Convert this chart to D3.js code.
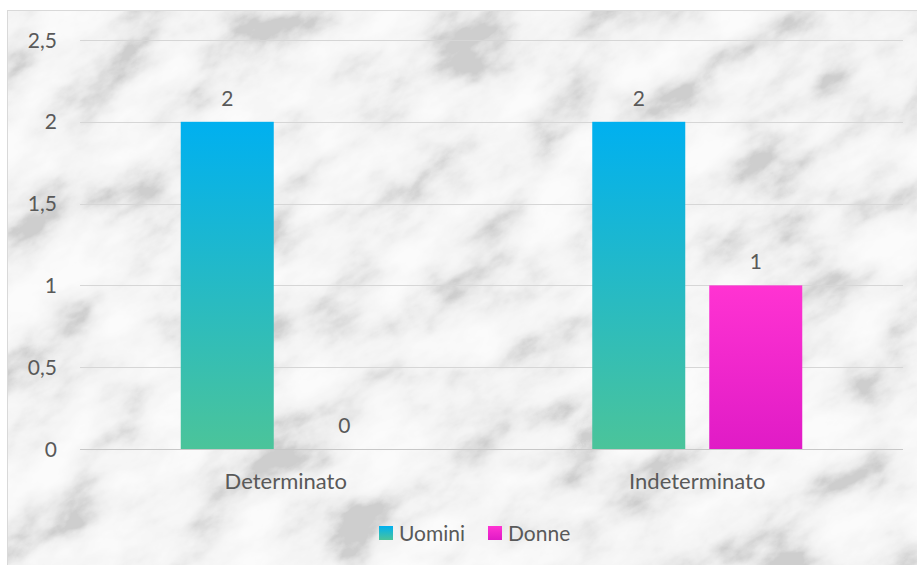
<!DOCTYPE html>
<html><head><meta charset="utf-8">
<script src="https://cdn.jsdelivr.net/npm/d3@7"></script>
<style>body{margin:0;background:#fff}svg{display:block}text{font-family:Lato,"Open Sans",sans-serif;fill:#595959}</style>
</head><body><svg id="c" width="917" height="565"></svg>
<script>
const categories = ["Determinato", "Indeterminato"];
const seriesNames = ["Uomini", "Donne"];
const uomini = [2, 2];
const donne = [0, 1];
const yTicks = [0, 0.5, 1, 1.5, 2, 2.5];
const yTickLabels = ["0", "0,5", "1", "1,5", "2", "2,5"];

const svg = d3.select("#c");
const W = 917, H = 565;
const defs = svg.append("defs");

// marble-like background texture
const f = defs.append("filter").attr("id","marble").attr("filterUnits","userSpaceOnUse")
  .attr("x",-600).attr("y",-600).attr("width",2200).attr("height",2000);
f.append("feTurbulence").attr("type","fractalNoise").attr("baseFrequency","0.011 0.019").attr("numOctaves",6).attr("seed",11).attr("result","n");
f.append("feColorMatrix").attr("in","n").attr("type","matrix")
 .attr("values","1.9 0.4 0 0 -0.65  1.9 0.4 0 0 -0.65  1.9 0.4 0 0 -0.65  0 0 0 0 1").attr("result","g");
const ct = f.append("feComponentTransfer").attr("in","g");
["feFuncR","feFuncG","feFuncB"].forEach(k=>ct.append(k).attr("type","table").attr("tableValues","0.62 0.72 0.8 0.86 0.9 0.92 0.94 0.955 0.965"));

const chartX = 7, chartY = 10;
defs.append("clipPath").attr("id","cc").append("rect").attr("x",chartX).attr("y",chartY).attr("width",W-chartX).attr("height",H-chartY);
const bg = svg.append("g").attr("clip-path","url(#cc)");
bg.append("rect").attr("x",chartX).attr("y",chartY).attr("width",W-chartX).attr("height",H-chartY).attr("fill","#e6e6e6");
bg.append("g").attr("transform","rotate(-30 458 282)")
  .append("rect").attr("x",-400).attr("y",-400).attr("width",1800).attr("height",1400).attr("filter","url(#marble)");
svg.append("rect").attr("x",chartX+0.5).attr("y",chartY+0.5).attr("width",W-chartX).attr("height",H-chartY).attr("fill","none").attr("stroke","#d9d9d9");

// gradients
const gU = defs.append("linearGradient").attr("id","gU").attr("x1",0).attr("y1",0).attr("x2",0).attr("y2",1);
gU.append("stop").attr("offset","0%").attr("stop-color","#00b0f0");
gU.append("stop").attr("offset","100%").attr("stop-color","#4bc49a");
const gD = defs.append("linearGradient").attr("id","gD").attr("x1",0).attr("y1",0).attr("x2",0).attr("y2",1);
gD.append("stop").attr("offset","0%").attr("stop-color","#ff33d2");
gD.append("stop").attr("offset","100%").attr("stop-color","#e01bc6");
const fills = ["url(#gU)","url(#gD)"];

const plot = {left: 80, right: 903, top: 40, bottom: 449};
const y = d3.scaleLinear().domain([0, 2.5]).range([plot.bottom, plot.top]);
const x0 = d3.scaleBand().domain(categories).range([plot.left, plot.right]).paddingInner(0).paddingOuter(0);
const x1 = d3.scaleBand().domain(seriesNames).range([0, 210]).paddingInner(24/117);

// gridlines
svg.append("g").selectAll("line").data(yTicks).join("line")
  .attr("x1",plot.left).attr("x2",plot.right)
  .attr("y1",d=>Math.round(y(d))+0.5).attr("y2",d=>Math.round(y(d))+0.5)
  .attr("stroke",d=>d===0?"#c8c8c8":"#d6d6d6").attr("stroke-width",1);

// y labels
svg.append("g").selectAll("text").data(yTicks).join("text")
  .attr("x",57).attr("y",d=>y(d)).attr("dy","0.36em").attr("text-anchor","end")
  .attr("font-size",21).text((d,i)=>yTickLabels[i]);

const data = categories.map((c,i)=>({c, vals:[uomini[i], donne[i]]}));
const g = svg.append("g");
data.forEach(d=>{
  const gx = x0(d.c) + x0.bandwidth()/2 - 105;
  d.vals.forEach((v,j)=>{
    const bx = gx + x1(seriesNames[j]);
    g.append("rect").attr("x",bx).attr("y",y(v)).attr("width",x1.bandwidth()).attr("height",y(0)-y(v)).attr("fill",fills[j]);
    g.append("text").attr("x",bx + x1.bandwidth()/2).attr("y",y(v)-16).attr("text-anchor","middle").attr("font-size",21).text(v);
  });
  svg.append("text").attr("x",x0(d.c)+x0.bandwidth()/2).attr("y",489).attr("text-anchor","middle").attr("font-size",22).text(d.c);
});

// legend
const leg = [{n:"Uomini",x:379},{n:"Donne",x:488}];
leg.forEach((l,i)=>{
  svg.append("rect").attr("x",l.x).attr("y",526).attr("width",14).attr("height",14).attr("fill",fills[i]);
  svg.append("text").attr("x",l.x+20).attr("y",541).attr("font-size",21).text(l.n);
});
</script></body></html>
